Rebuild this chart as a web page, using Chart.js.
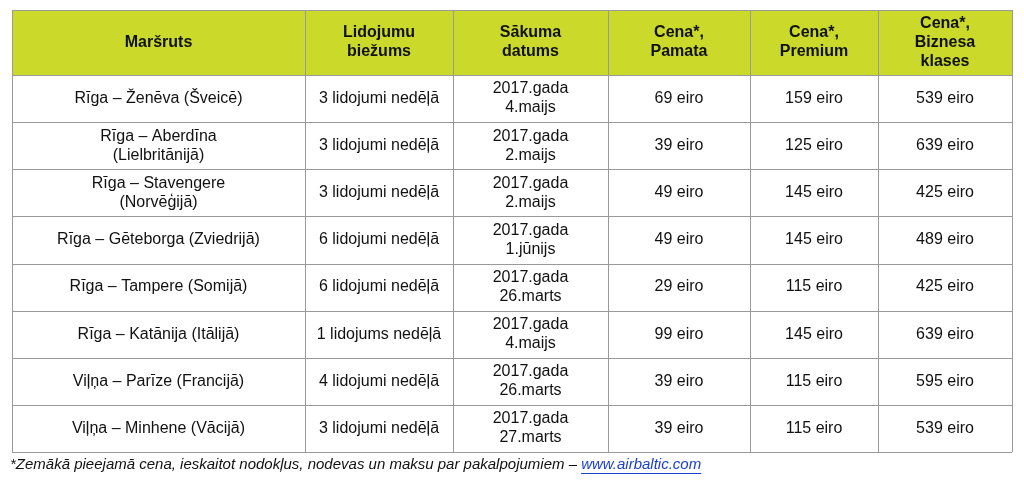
<!DOCTYPE html>
<html><head><meta charset="utf-8">
<script src="https://cdn.jsdelivr.net/npm/chart.js@4"></script>
<style>body{margin:0;background:#fff}</style>
</head><body>
<canvas id="c" width="1024" height="483"></canvas>
<script>
// table content
const headers = ['Maršruts', 'Lidojumu\nbiežums', 'Sākuma\ndatums', 'Cena*,\nPamata', 'Cena*,\nPremium', 'Cena*,\nBiznesa\nklases'];
const routes = ['Rīga – Ženēva (Šveicē)', 'Rīga – Aberdīna\n(Lielbritānijā)', 'Rīga – Stavengere\n(Norvēģijā)', 'Rīga – Gēteborga (Zviedrijā)', 'Rīga – Tampere (Somijā)', 'Rīga – Katānija (Itālijā)', 'Viļņa – Parīze (Francijā)', 'Viļņa – Minhene (Vācijā)'];
const frequency = ['3 lidojumi nedēļā', '3 lidojumi nedēļā', '3 lidojumi nedēļā', '6 lidojumi nedēļā', '6 lidojumi nedēļā', '1 lidojums nedēļā', '4 lidojumi nedēļā', '3 lidojumi nedēļā'];
const startDate = ['2017.gada\n4.maijs', '2017.gada\n2.maijs', '2017.gada\n2.maijs', '2017.gada\n1.jūnijs', '2017.gada\n26.marts', '2017.gada\n4.maijs', '2017.gada\n26.marts', '2017.gada\n27.marts'];
const priceBasic = [69, 39, 49, 49, 29, 99, 39, 39];
const pricePremium = [159, 125, 145, 145, 115, 145, 115, 115];
const priceBusiness = [539, 639, 425, 489, 425, 639, 595, 539];
const footnote = '*Zemākā pieejamā cena, ieskaitot nodokļus, nodevas un maksu par pakalpojumiem – ';
const footLink = 'www.airbaltic.com';

// layout (x in table units, y: header = 0..1.38, rows follow)
const colEdges = [0, 293, 441, 596, 738, 866, 1000];
const headerH = 1.38;

const rows = routes.map((r, i) => [r, frequency[i], startDate[i], priceBasic[i] + ' eiro', pricePremium[i] + ' eiro', priceBusiness[i] + ' eiro']);
const rowTop = i => headerH + i;
const yMax = headerH + rows.length;

const tablePlugin = {
  id: 'table',
  afterDraw(chart) {
    const ctx = chart.ctx, x = chart.scales.x, y = chart.scales.y;
    const px = v => x.getPixelForValue(v), py = v => y.getPixelForValue(v);
    ctx.save();
    ctx.fillStyle = '#cbd92b';
    ctx.fillRect(px(0), py(0), px(1000) - px(0), py(headerH) - py(0));
    ctx.strokeStyle = '#9a9a9a';
    ctx.lineWidth = 1;
    ctx.beginPath();
    colEdges.forEach(e => { const p = Math.round(px(e)) + 0.5; ctx.moveTo(p, py(0)); ctx.lineTo(p, py(yMax)); });
    for (let i = 0; i <= rows.length + 1; i++) {
      const p = Math.round(py(i === 0 ? 0 : rowTop(i - 1))) + 0.5;
      ctx.moveTo(px(0), p); ctx.lineTo(px(1000), p);
    }
    ctx.stroke();
    ctx.textAlign = 'center';
    ctx.textBaseline = 'middle';
    ctx.fillStyle = '#111';
    const cell = (txt, c, top, bot, font) => {
      ctx.font = font;
      const lines = txt.split('\n'), lh = 19;
      const cx = (px(colEdges[c]) + px(colEdges[c + 1])) / 2;
      const cy = (py(top) + py(bot)) / 2;
      lines.forEach((l, k) => ctx.fillText(l, cx, cy + (k - (lines.length - 1) / 2) * lh));
    };
    headers.forEach((h, c) => cell(h, c, 0, headerH, 'bold 16px "Liberation Sans", Arial, sans-serif'));
    rows.forEach((r, i) => r.forEach((t, c) => cell(t, c, rowTop(i), rowTop(i) + 1, '16px "Liberation Sans", Arial, sans-serif')));
    // footnote
    ctx.textAlign = 'left';
    ctx.font = 'italic 15px "Liberation Sans", Arial, sans-serif';
    const fy = py(yMax) + 13, fx = px(0) - 2;
    ctx.fillText(footnote, fx, fy);
    const lx = fx + ctx.measureText(footnote).width;
    ctx.fillStyle = '#1a3fd0';
    ctx.fillText(footLink, lx, fy);
    const w = ctx.measureText(footLink).width;
    ctx.fillRect(lx, fy + 8, w, 1);
    ctx.restore();
  }
};

new Chart(document.getElementById('c'), {
  type: 'scatter',
  data: { datasets: [{ data: [] }] },
  options: {
    responsive: false,
    animation: false,
    layout: { padding: { left: 12, right: 12, top: 10, bottom: 31 } },
    plugins: { legend: { display: false }, tooltip: { enabled: false } },
    scales: {
      x: { type: 'linear', min: 0, max: 1000, display: false },
      y: { type: 'linear', min: 0, max: yMax, reverse: true, display: false }
    }
  },
  plugins: [tablePlugin]
});
</script>
</body></html>
